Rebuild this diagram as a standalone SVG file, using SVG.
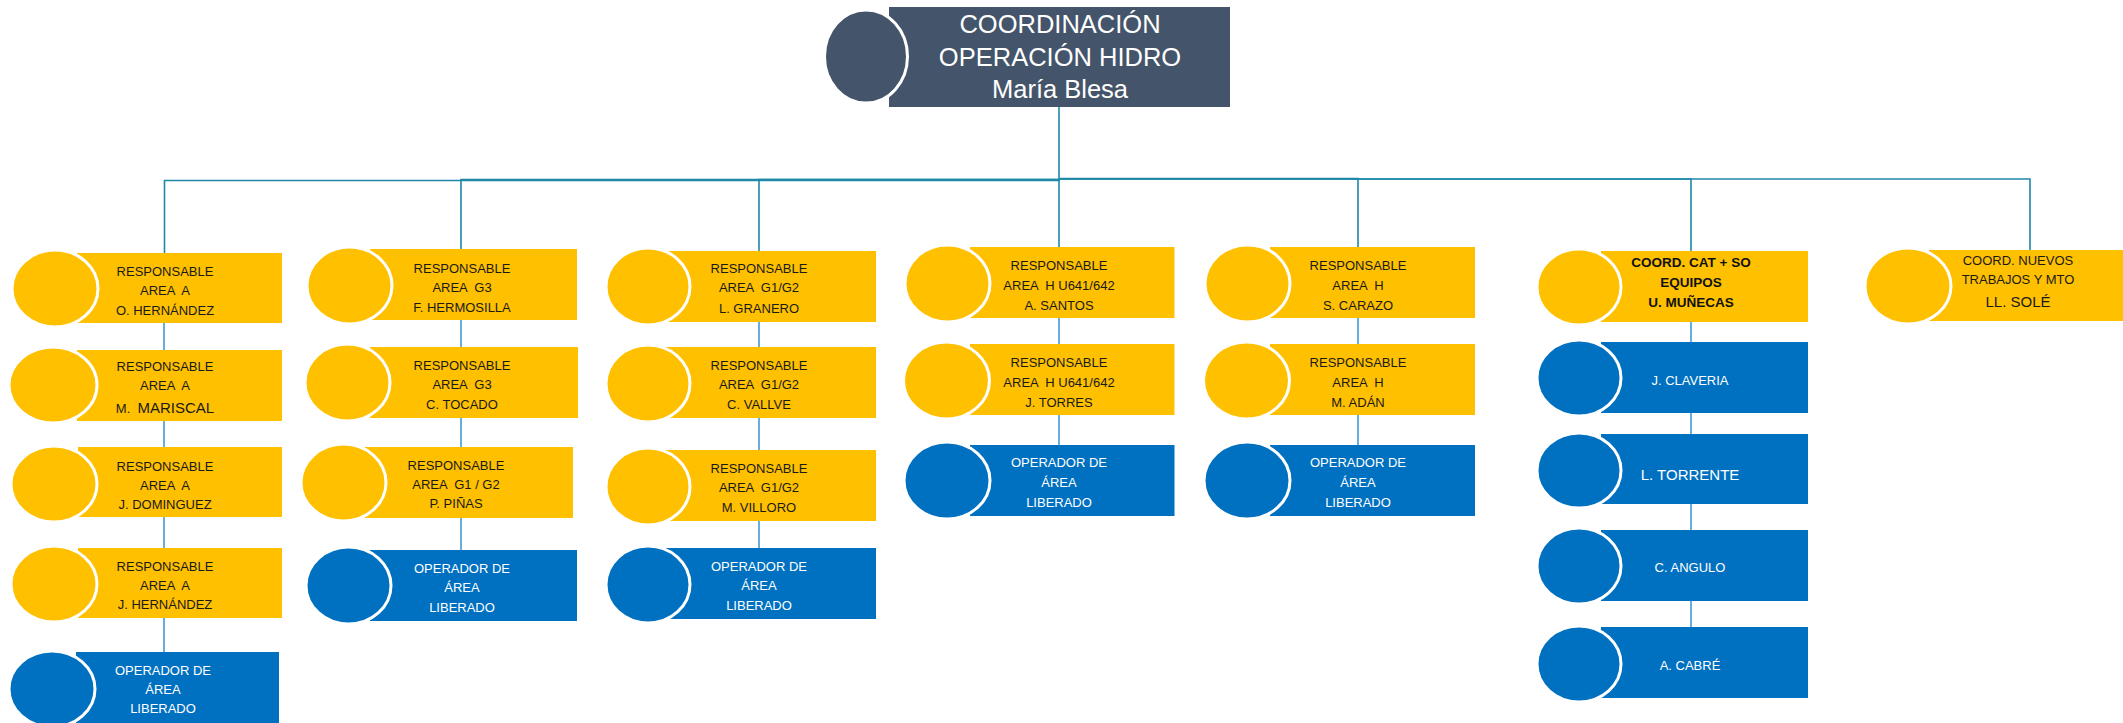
<svg xmlns="http://www.w3.org/2000/svg" width="2123" height="723" viewBox="0 0 2123 723">
<style>
.bg{fill:#ffffff}
.y{fill:#FFC000}
.b{fill:#0070C0}
.r{fill:#44546A}
.c{stroke:#ffffff;stroke-width:3}
.bus{fill:none;stroke:#1F88A7;stroke-width:1.6}
.ch{fill:none;stroke:#3F9BD3;stroke-width:1.6}
text{font-family:"Liberation Sans",Arial,sans-serif;text-anchor:middle;white-space:pre}
.t{font-size:13px;fill:#1a1a1a}
.tw{font-size:13px;fill:#ffffff}
.tb{font-size:13.5px;fill:#111111;font-weight:bold}
.big{font-size:15px}
.rt{font-size:25.5px;fill:#ffffff}
</style>
<rect class="bg" x="0" y="0" width="2123" height="723"/>
<g id="connectors">
<path class="bus" d="M1059,107 V180.5 H164.5 V253"/>
<path class="bus" d="M1059,179.5 H461 V249"/>
<path class="bus" d="M1059,179.5 H759 V251"/>
<path class="bus" d="M1059,180 V247"/>
<path class="bus" d="M1059,178.5 H1358 V247"/>
<path class="bus" d="M1059,179 H1691 V251"/>
<path class="bus" d="M1059,179 H2030 V250"/>
<path class="ch" d="M164,323 V652"/>
<path class="ch" d="M461,320 V550"/>
<path class="ch" d="M759,322 V548"/>
<path class="ch" d="M1059,318 V445"/>
<path class="ch" d="M1358,318 V445"/>
<path class="ch" d="M1691,322 V627"/>
</g>
<g id="root">
<rect class="r" x="889" y="7" width="341" height="100"/>
<ellipse class="r c" cx="866" cy="56.5" rx="41.5" ry="46.5"/>
<text class="rt" x="1060" y="33">COORDINACIÓN</text>
<text class="rt" x="1060" y="66">OPERACIÓN HIDRO</text>
<text class="rt" x="1060" y="98">María Blesa</text>
</g>
<!-- Column 1 -->
<g id="c1b1">
<rect class="y" x="77" y="253" width="205" height="70"/>
<ellipse class="y c" cx="55" cy="288.5" rx="43" ry="38.5"/>
<text class="t" x="165" y="276">RESPONSABLE</text>
<text class="t" x="165" y="295">AREA  A</text>
<text class="t" x="165" y="315">O. HERNÁNDEZ</text>
</g>
<g id="c1b2">
<rect class="y" x="77" y="350" width="205" height="71"/>
<ellipse class="y c" cx="53" cy="385" rx="44" ry="38"/>
<text class="t" x="165" y="371">RESPONSABLE</text>
<text class="t" x="165" y="390">AREA  A</text>
<text class="t" x="165" y="413">M.  <tspan class="big">MARISCAL</tspan></text>
</g>
<g id="c1b3">
<rect class="y" x="78" y="447" width="204" height="70"/>
<ellipse class="y c" cx="54" cy="484" rx="43" ry="38"/>
<text class="t" x="165" y="471">RESPONSABLE</text>
<text class="t" x="165" y="490">AREA  A</text>
<text class="t" x="165" y="509">J. DOMINGUEZ</text>
</g>
<g id="c1b4">
<rect class="y" x="78" y="548" width="204" height="70"/>
<ellipse class="y c" cx="54" cy="584" rx="43" ry="38"/>
<text class="t" x="165" y="571">RESPONSABLE</text>
<text class="t" x="165" y="590">AREA  A</text>
<text class="t" x="165" y="609">J. HERNÁNDEZ</text>
</g>
<g id="c1op">
<rect class="b" x="76" y="652" width="203" height="71"/>
<ellipse class="b c" cx="52" cy="689" rx="43" ry="38"/>
<text class="tw" x="163" y="675">OPERADOR DE</text>
<text class="tw" x="163" y="694">ÁREA</text>
<text class="tw" x="163" y="713">LIBERADO</text>
</g>
<!-- Column 2 -->
<g id="c2b1">
<rect class="y" x="370" y="249" width="207" height="71"/>
<ellipse class="y c" cx="349.5" cy="285.5" rx="42.5" ry="38.5"/>
<text class="t" x="462" y="273">RESPONSABLE</text>
<text class="t" x="462" y="292">AREA  G3</text>
<text class="t" x="462" y="312">F. HERMOSILLA</text>
</g>
<g id="c2b2">
<rect class="y" x="370" y="347" width="208" height="71"/>
<ellipse class="y c" cx="347.5" cy="382.5" rx="42.5" ry="38.5"/>
<text class="t" x="462" y="370">RESPONSABLE</text>
<text class="t" x="462" y="389">AREA  G3</text>
<text class="t" x="462" y="409">C. TOCADO</text>
</g>
<g id="c2b3">
<rect class="y" x="365" y="447" width="208" height="71"/>
<ellipse class="y c" cx="343.5" cy="482.5" rx="42.5" ry="38.5"/>
<text class="t" x="456" y="470">RESPONSABLE</text>
<text class="t" x="456" y="489">AREA  G1 / G2</text>
<text class="t" x="456" y="508">P. PIÑAS</text>
</g>
<g id="c2op">
<rect class="b" x="370" y="550" width="207" height="71"/>
<ellipse class="b c" cx="348.5" cy="585.5" rx="42.5" ry="38.5"/>
<text class="tw" x="462" y="573">OPERADOR DE</text>
<text class="tw" x="462" y="592">ÁREA</text>
<text class="tw" x="462" y="612">LIBERADO</text>
</g>
<!-- Column 3 -->
<g id="c3b1">
<rect class="y" x="660" y="251" width="216" height="71"/>
<ellipse class="y c" cx="648" cy="286.5" rx="42" ry="38.5"/>
<text class="t" x="759" y="273">RESPONSABLE</text>
<text class="t" x="759" y="292">AREA  G1/G2</text>
<text class="t" x="759" y="313">L. GRANERO</text>
</g>
<g id="c3b2">
<rect class="y" x="660" y="347" width="216" height="71"/>
<ellipse class="y c" cx="648" cy="383.5" rx="42" ry="38.5"/>
<text class="t" x="759" y="370">RESPONSABLE</text>
<text class="t" x="759" y="389">AREA  G1/G2</text>
<text class="t" x="759" y="409">C. VALLVE</text>
</g>
<g id="c3b3">
<rect class="y" x="660" y="450" width="216" height="71"/>
<ellipse class="y c" cx="648" cy="486.5" rx="42" ry="38.5"/>
<text class="t" x="759" y="473">RESPONSABLE</text>
<text class="t" x="759" y="492">AREA  G1/G2</text>
<text class="t" x="759" y="512">M. VILLORO</text>
</g>
<g id="c3op">
<rect class="b" x="660" y="548" width="216" height="71"/>
<ellipse class="b c" cx="648" cy="584.5" rx="42" ry="38.5"/>
<text class="tw" x="759" y="571">OPERADOR DE</text>
<text class="tw" x="759" y="590">ÁREA</text>
<text class="tw" x="759" y="610">LIBERADO</text>
</g>
<!-- Column 4 -->
<g id="c4b1">
<rect class="y" x="970" y="247" width="204.5" height="71"/>
<ellipse class="y c" cx="947.5" cy="283.5" rx="42.5" ry="38.5"/>
<text class="t" x="1059" y="270">RESPONSABLE</text>
<text class="t" x="1059" y="290">AREA  H U641/642</text>
<text class="t" x="1059" y="310">A. SANTOS</text>
</g>
<g id="c4b2">
<rect class="y" x="970" y="344" width="204.5" height="71"/>
<ellipse class="y c" cx="946.5" cy="380.5" rx="43" ry="38.5"/>
<text class="t" x="1059" y="367">RESPONSABLE</text>
<text class="t" x="1059" y="387">AREA  H U641/642</text>
<text class="t" x="1059" y="407">J. TORRES</text>
</g>
<g id="c4op">
<rect class="b" x="970" y="445" width="204.5" height="71"/>
<ellipse class="b c" cx="947" cy="480.5" rx="43" ry="38.5"/>
<text class="tw" x="1059" y="467">OPERADOR DE</text>
<text class="tw" x="1059" y="487">ÁREA</text>
<text class="tw" x="1059" y="507">LIBERADO</text>
</g>
<!-- Column 5 -->
<g id="c5b1">
<rect class="y" x="1270" y="247" width="205" height="71"/>
<ellipse class="y c" cx="1247.5" cy="283.5" rx="42.5" ry="38.5"/>
<text class="t" x="1358" y="270">RESPONSABLE</text>
<text class="t" x="1358" y="290">AREA  H</text>
<text class="t" x="1358" y="310">S. CARAZO</text>
</g>
<g id="c5b2">
<rect class="y" x="1270" y="344" width="205" height="71"/>
<ellipse class="y c" cx="1246.5" cy="380.5" rx="43" ry="38.5"/>
<text class="t" x="1358" y="367">RESPONSABLE</text>
<text class="t" x="1358" y="387">AREA  H</text>
<text class="t" x="1358" y="407">M. ADÁN</text>
</g>
<g id="c5op">
<rect class="b" x="1270" y="445" width="205" height="71"/>
<ellipse class="b c" cx="1247" cy="480.5" rx="43" ry="38.5"/>
<text class="tw" x="1358" y="467">OPERADOR DE</text>
<text class="tw" x="1358" y="487">ÁREA</text>
<text class="tw" x="1358" y="507">LIBERADO</text>
</g>
<!-- Column 6 -->
<g id="c6b1">
<rect class="y" x="1601" y="251" width="207" height="71"/>
<ellipse class="y c" cx="1579" cy="287" rx="42" ry="38"/>
<text class="tb" x="1691" y="267">COORD. CAT + SO</text>
<text class="tb" x="1691" y="287">EQUIPOS</text>
<text class="tb" x="1691" y="307">U. MUÑECAS</text>
</g>
<g id="c6n1">
<rect class="b" x="1601" y="342" width="207" height="71"/>
<ellipse class="b c" cx="1579" cy="378" rx="42" ry="38"/>
<text class="tw" x="1690" y="385">J. CLAVERIA</text>
</g>
<g id="c6n2">
<rect class="b" x="1601" y="434" width="207" height="70"/>
<ellipse class="b c" cx="1579" cy="470.5" rx="42" ry="37.5"/>
<text class="tw big" x="1690" y="480">L. TORRENTE</text>
</g>
<g id="c6n3">
<rect class="b" x="1601" y="530" width="207" height="71"/>
<ellipse class="b c" cx="1579" cy="566" rx="42" ry="38"/>
<text class="tw" x="1690" y="572">C. ANGULO</text>
</g>
<g id="c6n4">
<rect class="b" x="1601" y="627" width="207" height="71"/>
<ellipse class="b c" cx="1579" cy="664" rx="42" ry="38"/>
<text class="tw" x="1690" y="670">A. CABRÉ</text>
</g>
<!-- Column 7 -->
<g id="c7b1">
<rect class="y" x="1929" y="250" width="194" height="71"/>
<ellipse class="y c" cx="1908" cy="286" rx="43" ry="38"/>
<text class="t" x="2018" y="265">COORD. NUEVOS</text>
<text class="t" x="2018" y="284">TRABAJOS Y MTO</text>
<text class="t big" x="2018" y="307">LL. SOLÉ</text>
</g>
</svg>
